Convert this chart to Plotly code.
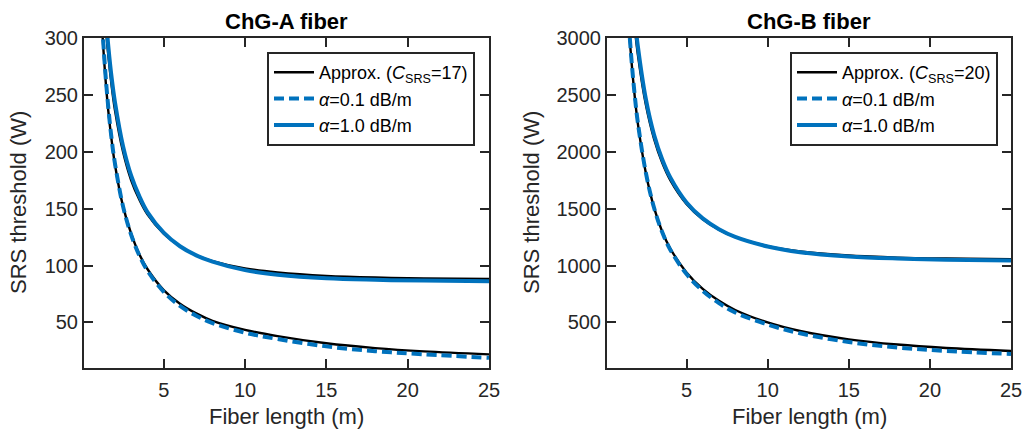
import plotly.graph_objects as go

# Fiber length samples (m)
len_a_hi = [1.0, 1.2, 1.4, 1.6, 1.8, 2.0, 2.5, 3, 3.5, 4, 5, 6, 7, 8, 10, 12, 15, 18, 21, 25]
len_a_lo = [1.0, 1.2, 1.4, 1.6, 1.8, 2.0, 2.5, 3, 3.5, 4, 5, 6, 7, 8, 10, 12, 15, 18, 21, 25]
len_b_hi = [1.2, 1.4, 1.6, 1.8, 2.0, 2.5, 3, 3.5, 4, 5, 6, 7, 8, 10, 12, 15, 18, 21, 25]
len_b_lo = [1.0, 1.2, 1.4, 1.6, 1.8, 2.0, 2.5, 3, 3.5, 4, 5, 6, 7, 8, 10, 12, 15, 18, 21, 25]

# ChG-A fiber: SRS threshold (W)
a_approx_a10 = [425, 362, 317, 284, 258, 237, 200, 175, 158, 145, 128, 117, 109, 104, 97.5, 94, 91, 89.5, 88.8, 88.3]
a_exact_a10 = [437, 372, 326, 292, 265, 244, 205, 179, 161, 147, 129, 117, 109, 103.5, 96, 92, 88.8, 87.5, 86.8, 86.3]
a_approx_a01 = [372, 312, 268, 235, 210, 189, 152, 128, 110, 97, 78.5, 66.5, 58, 51.5, 43.5, 38, 31.7, 27.5, 24.6, 22]
a_exact_a01 = [378, 318, 272, 238, 211, 190, 152, 127, 109, 95.5, 77, 64.5, 56, 49.5, 41, 35.5, 29, 24.8, 22, 19]

# ChG-B fiber: SRS threshold (W)
b_approx_a10 = [4370, 3826, 3420, 3107, 2857, 2410, 2113, 1905, 1751, 1542, 1407, 1316, 1252, 1171, 1124, 1088, 1070, 1062, 1057]
b_exact_a10 = [4490, 3930, 3520, 3190, 2930, 2460, 2150, 1935, 1775, 1555, 1415, 1320, 1252, 1168, 1118, 1080, 1062, 1052, 1045]
b_approx_a01 = [4550, 3800, 3210, 2810, 2500, 2250, 1810, 1510, 1300, 1150, 940, 795, 690, 610, 500, 425, 352, 306, 276, 250]
b_exact_a01 = [4580, 3830, 3230, 2825, 2510, 2258, 1812, 1508, 1295, 1140, 925, 778, 670, 588, 482, 405, 328, 280, 250, 223]

x_ticks = [5, 10, 15, 20, 25]
y_ticks_a = [50, 100, 150, 200, 250, 300]
y_ticks_b = [500, 1000, 1500, 2000, 2500, 3000]

titles = ["ChG-A fiber", "ChG-B fiber"]
c_srs = [17, 20]

BLUE = "#0072BD"
DARK = "#262626"
FONT = "Liberation Sans, Arial, sans-serif"

W, H = 1024, 431
# panel frames in pixels: (left, right)
frames = [(84, 489), (607, 1011)]
top_px, bot_px = 38, 368

fig = go.Figure()

panels = [
    (len_a_hi, len_a_lo, a_approx_a10, a_exact_a10, a_approx_a01, a_exact_a01),
    (len_b_hi, len_b_lo, b_approx_a10, b_exact_a10, b_approx_a01, b_exact_a01),
]

for i, (xh, xl, ap10, ex10, ap01, ex01) in enumerate(panels):
    xa = "x" if i == 0 else "x2"
    ya = "y" if i == 0 else "y2"
    lg = "legend" if i == 0 else "legend2"
    common = dict(xaxis=xa, yaxis=ya, legend=lg, mode="lines", line_shape="spline",
                  hoverinfo="skip")
    fig.add_trace(go.Scatter(x=xh, y=ap10, name=f"Approx. (<i>C</i><sub>SRS</sub>={c_srs[i]})",
                             line=dict(color="black", width=2.4), showlegend=True, **common))
    fig.add_trace(go.Scatter(x=xl, y=ap01, name="approx lo",
                             line=dict(color="black", width=2.4), showlegend=False, **common))
    fig.add_trace(go.Scatter(x=xl, y=ex01, name="<i>α</i>=0.1 dB/m",
                             line=dict(color=BLUE, width=4, dash="10px,5px"), **common))
    fig.add_trace(go.Scatter(x=xh, y=ex10, name="<i>α</i>=1.0 dB/m",
                             line=dict(color=BLUE, width=4), **common))

ydom = [(H - bot_px) / H, (H - top_px) / H]
axis_style = dict(showline=True, linewidth=2, linecolor=DARK, mirror="allticks",
                  ticks="inside", ticklen=9, tickwidth=2, tickcolor=DARK,
                  showgrid=False, zeroline=False,
                  tickfont=dict(family=FONT, size=20, color=DARK))

fig.update_layout(
    xaxis=dict(domain=[frames[0][0] / W, frames[0][1] / W], range=[0.1, 25],
               tickvals=x_ticks, anchor="y", ticklabelstandoff=3, **axis_style),
    yaxis=dict(domain=ydom, range=[10, 300], tickvals=y_ticks_a, anchor="x", **axis_style),
    xaxis2=dict(domain=[frames[1][0] / W, frames[1][1] / W], range=[0.1, 25],
                tickvals=x_ticks, anchor="y2", ticklabelstandoff=3, **axis_style),
    yaxis2=dict(domain=ydom, range=[100, 3000], tickvals=y_ticks_b, anchor="x2", **axis_style),
    width=W, height=H,
    margin=dict(l=0, r=0, t=0, b=0, autoexpand=False),
    paper_bgcolor="white", plot_bgcolor="white",
    showlegend=True,
)

leg_style = dict(bgcolor="white", bordercolor=DARK, borderwidth=2,
                 font=dict(family=FONT, size=18, color="black"),
                 xanchor="left", yanchor="top", tracegroupgap=0,
                 itemwidth=40)
fig.update_layout(
    legend=dict(x=267 / W, y=(H - 52) / H, **leg_style),
    legend2=dict(x=790 / W, y=(H - 52) / H, **leg_style),
)

annotations = []
for i, (l, r) in enumerate(frames):
    cx = (l + r) / 2 / W
    annotations.append(dict(text=f"<b>{titles[i]}</b>", x=cx, y=(H - 21) / H, xref="paper", yref="paper",
                            showarrow=False, xanchor="center", yanchor="middle",
                            font=dict(family=FONT, size=22, color="black")))
    annotations.append(dict(text="Fiber length (m)", x=cx, y=(H - 416) / H, xref="paper", yref="paper",
                            showarrow=False, xanchor="center", yanchor="middle",
                            font=dict(family=FONT, size=22, color=DARK)))
    annotations.append(dict(text="SRS threshold (W)", x=(l - 65 if i == 0 else l - 75) / W,
                            y=(H - 203) / H, xref="paper", yref="paper", textangle=-90,
                            showarrow=False, xanchor="center", yanchor="middle",
                            font=dict(family=FONT, size=22, color=DARK)))
fig.update_layout(annotations=annotations)

fig.write_html("out.html")
